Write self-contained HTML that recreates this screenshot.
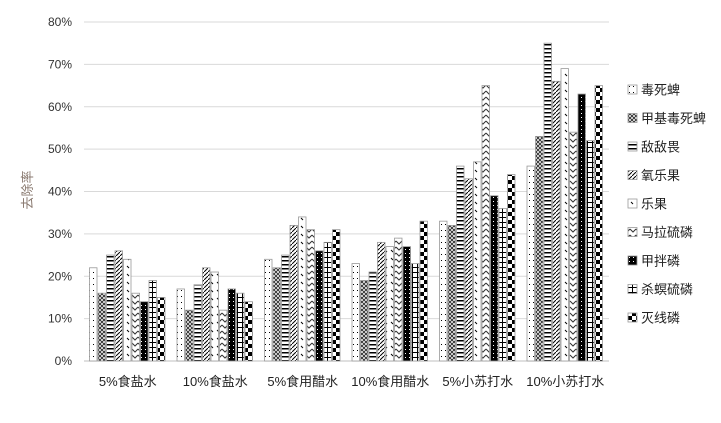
<!DOCTYPE html>
<html><head><meta charset="utf-8"><style>
body{margin:0;background:#fff;}
svg text{font-family:"Liberation Sans","Noto Sans CJK SC",sans-serif;}
</style></head><body>
<svg id="chart" width="721" height="418" viewBox="0 0 721 418">
<defs>
<pattern id="p0" width="4" height="6" patternUnits="userSpaceOnUse"><rect width="4" height="6" fill="#fff"/><rect x="1" y="2" width="1" height="1" fill="#000"/></pattern>
<pattern id="p1" width="4" height="4" patternUnits="userSpaceOnUse"><rect width="4" height="4" fill="#fff"/><path d="M0 0L4 4M4 0L0 4" stroke="#333" stroke-width="1"/></pattern>
<pattern id="p2" width="6" height="4" patternUnits="userSpaceOnUse"><rect width="6" height="4" fill="#fff"/><rect y="0" width="6" height="1.5" fill="#000"/></pattern>
<pattern id="p3" width="4" height="4" patternUnits="userSpaceOnUse"><rect width="4" height="4" fill="#fff"/><path d="M0 4L4 0" stroke="#000" stroke-width="1"/></pattern>
<pattern id="p4" width="6" height="8" patternUnits="userSpaceOnUse"><rect width="6" height="8" fill="#fff"/><path d="M1 2L3 4" stroke="#000" stroke-width="1"/></pattern>
<pattern id="p5" width="6" height="6" patternUnits="userSpaceOnUse"><rect width="6" height="6" fill="#fff"/><path d="M0 1L3 4L6 1" stroke="#333" stroke-width="1" fill="none"/></pattern>
<pattern id="p6" width="4" height="4" patternUnits="userSpaceOnUse"><rect width="4" height="4" fill="#000"/><rect x="1" y="1" width="1" height="1" fill="#fff"/></pattern>
<pattern id="p7" width="5" height="5" patternUnits="userSpaceOnUse"><rect width="5" height="5" fill="#fff"/><path d="M2.5 0V5M0 2.5H5" stroke="#000" stroke-width="1"/></pattern>
<pattern id="p8" width="8" height="8" patternUnits="userSpaceOnUse"><rect width="8" height="8" fill="#fff"/><rect width="4" height="4" fill="#000"/><rect x="4" y="4" width="4" height="4" fill="#000"/></pattern>
</defs>
<g id="grid"></g><g id="bars"></g><g id="axes"></g><g id="legend"></g>
<text x="32" y="190" transform="rotate(-90 32 190)" text-anchor="middle" font-size="13" fill="#8a7a70">去除率</text>
</svg>
<script>
const categories=["5%食盐水","10%食盐水","5%食用醋水","10%食用醋水","5%小苏打水","10%小苏打水"];
const seriesNames=["毒死蜱","甲基毒死蜱","敌敌畏","氧乐果","乐果","马拉硫磷","甲拌磷","杀螟硫磷","灭线磷"];
const s0=[22,17,24,23,33,46];
const s1=[16,12,22,19,32,53];
const s2=[25,18,25,21,46,75];
const s3=[26,22,32,28,43,66];
const s4=[24,21,34,27,47,69];
const s5=[16,12,31,29,65,54];
const s6=[14,17,26,27,39,63];
const s7=[19,16,28,23,36,52];
const s8=[15,14,31,33,44,65];
const series=[s0,s1,s2,s3,s4,s5,s6,s7,s8];
const yTicks=[0,10,20,30,40,50,60,70,80];
const NS="http://www.w3.org/2000/svg";
const x0=84,x1=609,yBase=361,yTop=22,yMax=80;
const y=v=>yBase-(v/yMax)*(yBase-yTop);
const band=(x1-x0)/categories.length;
const bw=8.5;
function mk(t,a,p){const e=document.createElementNS(NS,t);for(const k in a)e.setAttribute(k,a[k]);p.appendChild(e);return e;}
const grid=document.getElementById('grid'),bars=document.getElementById('bars'),axes=document.getElementById('axes'),leg=document.getElementById('legend');
yTicks.forEach(t=>{
 const l=mk('line',{x1:x0,x2:x1,y1:y(t),y2:y(t),stroke:t===0?'#bfbfbf':'#d9d9d9','stroke-width':1},grid);
 
 
 const tx=mk('text',{x:x0-12,y:y(t)+4,'text-anchor':'end','font-size':12,fill:'#333'},axes);
 tx.textContent=t+'%';
 
 
});
categories.forEach((c,i)=>{
 const start=x0+i*band+(band-bw*9)/2;
 series.forEach((s,j)=>{
  const r=mk('rect',{x:start+j*bw,y:y(s[i]),width:bw-1,height:yBase-y(s[i]),fill:'url(#p'+j+')',stroke:'#999','stroke-width':0.8},bars);
  
  
 });
 const tx=mk('text',{x:x0+i*band+band/2,y:386,'text-anchor':'middle','font-size':13,fill:'#222'},axes);
 tx.textContent=c;
 
 
});
seriesNames.forEach((n,j)=>{
 const yy=90+j*28.5;
 const r=mk('rect',{x:628,y:yy-5,width:9,height:9,fill:'url(#p'+j+')',stroke:'#999','stroke-width':0.8},leg);
 
 
 const t=mk('text',{x:641,y:yy+4.5,'font-size':13,fill:'#222'},leg);
 t.textContent=n;
 
 
});
</script>
</body></html>
